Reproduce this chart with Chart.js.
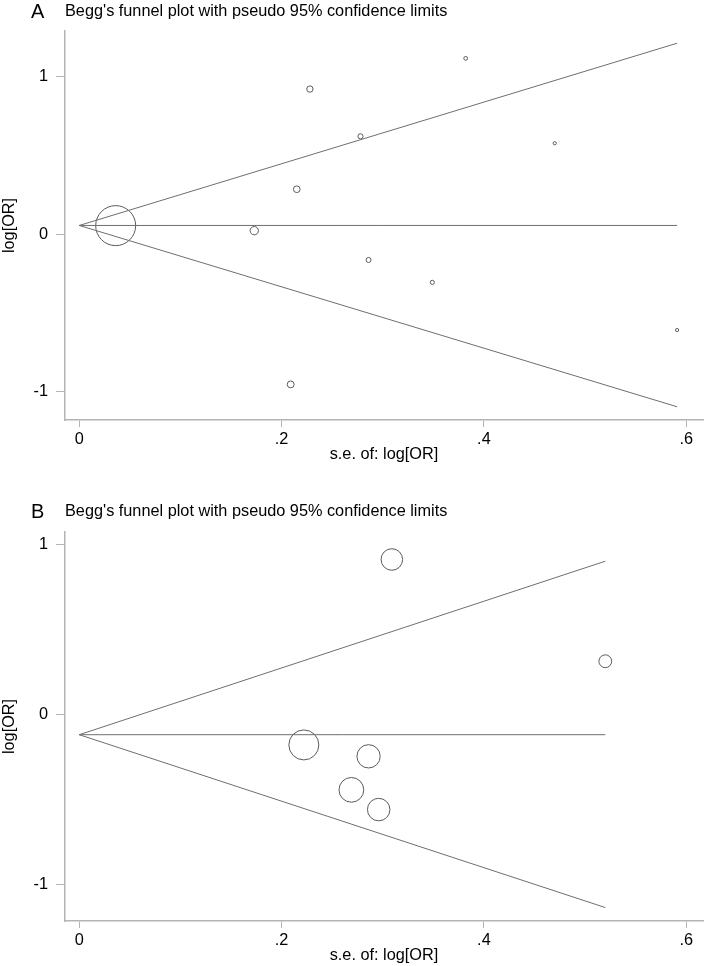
<!DOCTYPE html>
<html>
<head>
<meta charset="utf-8">
<script src="https://cdn.jsdelivr.net/npm/chart.js@4.4.1/dist/chart.umd.min.js"></script>
<style>
  html, body { margin: 0; padding: 0; background: #fff; }
  .panel { position: absolute; left: 0; width: 704px; height: 483px; }
  #panel-a { top: 0; }
  #panel-b { top: 483px; }
</style>
</head>
<body>
<div class="panel" id="panel-a"><canvas id="chartA" width="704" height="483"></canvas></div>
<div class="panel" id="panel-b"><canvas id="chartB" width="704" height="483"></canvas></div>
<script>
// panel A: studies (s.e. of log[OR], log[OR])
const seA = [0.036, 0.173, 0.215, 0.228, 0.278, 0.382, 0.470, 0.286, 0.349, 0.591, 0.209];
const logOrA = [0.055, 0.023, 0.286, 0.922, 0.622, 1.117, 0.578, -0.163, -0.305, -0.608, -0.953];
const funnelSeA = [0, 0.591];
const pooledA = [0.056, 0.056];
const upperA = [0.056, 1.213];
const lowerA = [0.056, -1.095];

// panel B
const seB = [0.309, 0.520, 0.222, 0.286, 0.269, 0.296];
const logOrB = [0.910, 0.312, -0.180, -0.247, -0.444, -0.560];
const funnelSeB = [0, 0.52];
const pooledB = [-0.12, -0.12];
const upperB = [-0.12, 0.900];
const lowerB = [-0.12, -1.136];

// tick values + labels
const xTicks = [0, 0.2, 0.4, 0.6];
const xTickLabels = ["0", ".2", ".4", ".6"];
const yTicks = [-1, 0, 1];
const yTickLabels = ["-1", "0", "1"];

const FONT = "'Liberation Sans', Arial, sans-serif";
const FONT_SIZE = 16.3;
const AXIS_GRAY = "#b4b4b4";
const LINE_GRAY = "#6e6e6e";

function toPoints(xs, ys) {
  return xs.map(function (x, i) { return { x: x, y: ys[i] }; });
}

// letter "A" / "B" in front of the title
const panelLetter = {
  id: "panelLetter",
  afterDraw(chart, args, opts) {
    const ctx = chart.ctx;
    ctx.save();
    ctx.font = "20px " + FONT;
    ctx.fillStyle = "#000";
    ctx.textBaseline = "middle";
    ctx.textAlign = "left";
    ctx.fillText(opts.text, opts.x, opts.y);
    ctx.restore();
  },
};

function makePanel(canvasId, p) {
  const ctx = document.getElementById(canvasId).getContext("2d");
  const lineStyle = {
    type: "line",
    showLine: true,
    borderColor: LINE_GRAY,
    borderWidth: 1,
    pointRadius: 0,
    fill: false,
  };
  return new Chart(ctx, {
    type: "scatter",
    data: {
      datasets: [
        Object.assign({ data: toPoints(p.funnelSe, p.upper) }, lineStyle),
        Object.assign({ data: toPoints(p.funnelSe, p.pooled) }, lineStyle),
        Object.assign({ data: toPoints(p.funnelSe, p.lower) }, lineStyle),
        {
          data: toPoints(p.se, p.logOr),
          borderColor: "#5a5a5a",
          backgroundColor: "rgba(0,0,0,0)",
          borderWidth: 1,
          clip: false,
          // marker size ~ 1/se like Stata's weights
          pointRadius: function (c) {
            const v = c.raw ? c.raw.x : 1;
            return Math.max(1.6, p.sizeScale / v);
          },
        },
      ],
    },
    options: {
      responsive: false,
      animation: false,
      layout: { autoPadding: false, padding: { left: 0, right: 1, top: 0, bottom: p.bottomPad } },
      plugins: {
        legend: { display: false },
        tooltip: { enabled: false },
        title: {
          display: true,
          text: "Begg's funnel plot with pseudo 95% confidence limits",
          align: "start",
          fullSize: false,
          color: "#000",
          font: { family: FONT, size: FONT_SIZE, weight: "normal", lineHeight: 1.1 },
          padding: p.titlePad,
        },
        panelLetter: { text: p.letter, x: 31, y: p.letterY },
      },
      scales: {
        x: {
          type: "linear",
          min: -0.0141,
          max: 0.6166,
          afterBuildTicks: function (s) {
            s.ticks = xTicks.map(function (v) { return { value: v }; });
          },
          afterFit: function (s) {
            s.height = 45;
            s.paddingLeft = 0;
            s.paddingRight = 0;
          },
          ticks: {
            color: "#000",
            font: { family: FONT, size: FONT_SIZE, lineHeight: 1.1 },
            padding: 4,
            maxRotation: 0,
            autoSkip: false,
            callback: function (v, i) { return xTickLabels[i]; },
          },
          grid: {
            drawOnChartArea: false,
            drawTicks: true,
            tickLength: 7,
            tickColor: AXIS_GRAY,
            tickWidth: 1,
          },
          border: { display: true, color: AXIS_GRAY, width: 1.5 },
          title: {
            display: true,
            text: "s.e. of: log[OR]",
            color: "#000",
            font: { family: FONT, size: FONT_SIZE, lineHeight: 1.1 },
            padding: { top: 0, bottom: 2 },
          },
        },
        y: {
          type: "linear",
          min: p.yMin,
          max: p.yMax,
          afterBuildTicks: function (s) {
            s.ticks = yTicks.map(function (v) { return { value: v }; });
          },
          afterFit: function (s) {
            s.width = 65;
            s.paddingTop = 0;
            s.paddingBottom = 0;
          },
          ticks: {
            color: "#000",
            font: { family: FONT, size: FONT_SIZE },
            padding: 8,
            autoSkip: false,
            callback: function (v, i) { return yTickLabels[i]; },
          },
          grid: {
            drawOnChartArea: false,
            drawTicks: true,
            tickLength: 9,
            tickColor: AXIS_GRAY,
            tickWidth: 1,
          },
          border: { display: true, color: AXIS_GRAY, width: 1.5 },
          title: {
            display: true,
            text: "log[OR]",
            color: "#000",
            font: { family: FONT, size: FONT_SIZE, lineHeight: 1.1 },
            padding: { top: 1, bottom: 0 },
          },
        },
      },
    },
    plugins: [panelLetter],
  });
}

makePanel("chartA", {
  se: seA, logOr: logOrA,
  funnelSe: funnelSeA, pooled: pooledA, upper: upperA, lower: lowerA,
  sizeScale: 0.72,
  yMin: -1.179, yMax: 1.291,
  titlePad: { top: 3, bottom: 10 },
  bottomPad: 18,
  letter: "A", letterY: 12,
});

makePanel("chartB", {
  se: seB, logOr: logOrB,
  funnelSe: funnelSeB, pooled: pooledB, upper: upperB, lower: lowerB,
  sizeScale: 3.33,
  yMin: -1.215, yMax: 1.072,
  titlePad: { top: 20, bottom: 11 },
  bottomPad: 0,
  letter: "B", letterY: 29,
});
</script>
</body>
</html>
